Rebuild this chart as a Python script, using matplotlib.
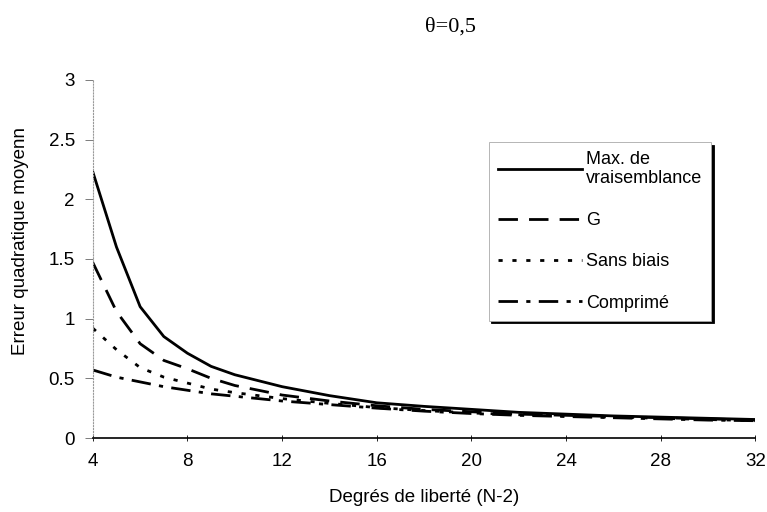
import matplotlib.pyplot as plt
from matplotlib.ticker import FixedLocator

plt.rcParams['font.family'] = ['Liberation Sans', 'DejaVu Sans']

# degrés de liberté
ddl = [4, 5, 6, 7, 8, 9, 10, 11, 12, 14, 16, 18, 20, 22, 24, 26, 28, 30, 32]
# erreur quadratique moyenne par estimateur
max_vrais = [2.23, 1.60, 1.10, 0.85, 0.71, 0.60, 0.53, 0.48, 0.43, 0.355, 0.295, 0.265, 0.24, 0.215, 0.20, 0.185, 0.175, 0.165, 0.155]
g_est = [1.47, 1.06, 0.79, 0.65, 0.58, 0.50, 0.44, 0.40, 0.36, 0.31, 0.27, 0.24, 0.22, 0.20, 0.19, 0.18, 0.17, 0.16, 0.15]
sans_biais = [0.92, 0.74, 0.59, 0.51, 0.46, 0.41, 0.38, 0.355, 0.33, 0.29, 0.255, 0.23, 0.21, 0.195, 0.185, 0.175, 0.165, 0.155, 0.145]
comprime = [0.57, 0.51, 0.47, 0.43, 0.40, 0.37, 0.35, 0.33, 0.31, 0.28, 0.25, 0.225, 0.205, 0.19, 0.18, 0.17, 0.16, 0.15, 0.145]

xticks = [4, 8, 12, 16, 20, 24, 28, 32]
yticks = [0, 0.5, 1, 1.5, 2, 2.5, 3]
ylabels = ['0', '0.5', '1', '1.5', '2', '2.5', '3']


def main():
    fig = plt.figure(figsize=(7.67, 5.12), dpi=100)
    ax = fig.add_axes([0.121, 0.1445, 0.864, 0.6995])

    ax.plot(ddl, max_vrais, color='black', lw=2.0, label='Max. de\nvraisemblance')
    ax.plot(ddl, g_est, color='black', lw=2.0, linestyle=(0, (7, 4)), label='G')
    ax.plot(ddl, sans_biais, color='black', lw=2.0, linestyle=(0, (1.5, 3.5)), label='Sans biais')
    ax.plot(ddl, comprime, color='black', lw=2.0, linestyle=(0, (7, 3, 1.5, 3)), label='Comprimé')

    ax.set_xlim(4, 32)
    ax.set_ylim(0, 3)
    ax.xaxis.set_major_locator(FixedLocator(xticks))
    ax.set_yticks(yticks)
    ax.set_yticklabels(ylabels)
    ax.tick_params(labelsize=13.5, width=0.6)
    ax.tick_params(axis='x', direction='inout', length=5, pad=8)
    ax.tick_params(axis='y', length=6, pad=7, color='#666666')
    ax.spines['top'].set_visible(False)
    ax.spines['right'].set_visible(False)
    ax.spines['left'].set_linewidth(0.8)
    ax.spines['left'].set_color('#999999')
    ax.spines['left'].set_linestyle(':')
    ax.spines['bottom'].set_linewidth(1.2)

    ax.set_xlabel('Degrés de liberté (N-2)', fontsize=13.5, labelpad=14)
    ax.set_ylabel('Erreur quadratique moyenn', fontsize=13.5)
    ax.yaxis.set_label_coords(-0.097, 0.55)
    fig.text(0.587, 0.948, 'θ=0,5', fontsize=16, family='Liberation Serif', ha='center', va='center')

    leg = ax.legend(loc='upper left', bbox_to_anchor=(0.637, 0.723), bbox_transform=fig.transFigure,
                    frameon=True, fancybox=False, shadow={'color': 'black', 'alpha': 1},
                    handlelength=4.7, handletextpad=0.2, fontsize=13, labelspacing=1.35,
                    borderpad=0.5, borderaxespad=0)
    leg.get_frame().set_edgecolor('#aaaaaa')
    leg.get_frame().set_linewidth(0.6)

    fig.savefig('out.png', dpi=100)


if __name__ == "__main__":
    main()
